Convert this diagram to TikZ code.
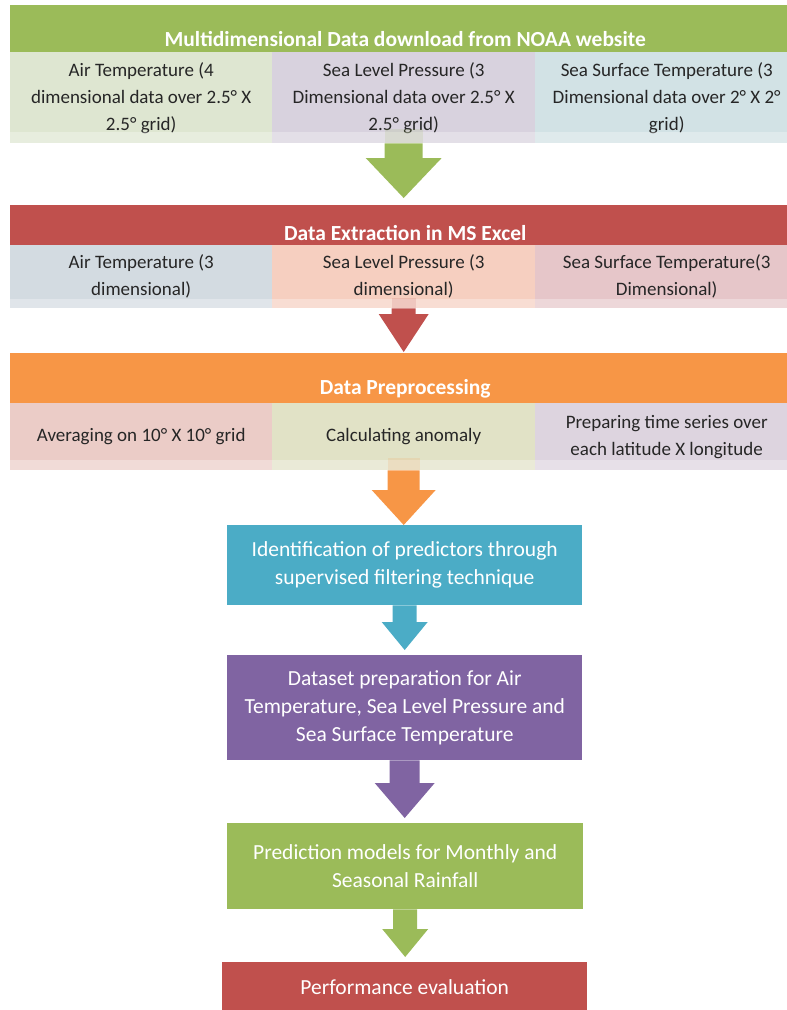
\documentclass[tikz,border=0pt]{standalone}
\usepackage{fontspec}
\setmainfont{Carlito}
\usetikzlibrary{calc}
\definecolor{hgreen}{HTML}{9BBB59}
\definecolor{hred}{HTML}{C0504D}
\definecolor{horange}{HTML}{F79646}
\definecolor{hteal}{HTML}{4BACC6}
\definecolor{hpurple}{HTML}{8064A2}
\definecolor{aA}{HTML}{DEE6D1}
\definecolor{aB}{HTML}{D8D2DE}
\definecolor{aC}{HTML}{D2E2E5}
\definecolor{bA}{HTML}{D3DBE1}
\definecolor{bB}{HTML}{F6CFC0}
\definecolor{bC}{HTML}{E6C6C9}
\definecolor{cA}{HTML}{EBCCC7}
\definecolor{cB}{HTML}{E1E2C6}
\definecolor{cC}{HTML}{DDD4DF}
\definecolor{txt}{HTML}{262626}
% block arrow: from, to, colour, half shaft, half head, head length, gap, overlap
\newcommand\barrow[8]{%
  \fill[#3] let \p1=(#1.south), \p2=(#2.north) in
   (\x1-#4,\y1) -- (\x1+#4,\y1) -- (\x1+#4,\y2+#7+#6) -- (\x1+#5,\y2+#7+#6)
   -- (\x1,\y2+#7) -- (\x1-#5,\y2+#7+#6) -- (\x1-#4,\y2+#7+#6) -- cycle;
  \fill[#3, fill opacity=0.15] let \p1=(#1.south) in
   (\x1-#4,\y1) rectangle (\x1+#4,\y1+#8);}
\newcommand\strip[2]{%
  \fill[white, fill opacity=0.3] (#1.south west) rectangle ([yshift=#2]#1.south east);}
\tikzset{
  band/.style={rectangle, inner xsep=0pt, inner ysep=0pt, minimum width=790pt,
    anchor=north west, text=white, font=\fontsize{21.5}{26}\selectfont\bfseries},
  sub/.style={rectangle, inner sep=0pt, minimum width=263pt, anchor=north west,
    align=center, text=txt, font=\fontsize{19}{27}\selectfont},
  proc/.style={rectangle, inner sep=0pt, anchor=north west, align=center,
    text=white, font=\fontsize{21.5}{28}\selectfont},
}
\begin{document}
\begin{tikzpicture}[x=1pt,y=-1pt]
\useasboundingbox (0,0) rectangle (787,1010);
% ---- stage 1
\node[band, fill=hgreen, text height=41pt, text depth=6pt] (h1) at (10,5)
  {Multidimensional Data download from NOAA website};
\node[sub, fill=aA, minimum height=91pt, minimum width=262pt] (a1) at (10,52)
  {Air Temperature (4\\dimensional data over 2.5° X\\2.5° grid)};
\node[sub, fill=aB, minimum height=91pt] (a2) at (272,52)
  {Sea Level Pressure (3\\Dimensional data over 2.5° X\\2.5° grid)};
\node[sub, fill=aC, minimum height=91pt] (a3) at (535,52)
  {Sea Surface Temperature (3\\Dimensional data over 2° X 2°\\grid)};
\strip{a1}{11pt}\strip{a2}{11pt}\strip{a3}{11pt}
% ---- stage 2
\node[band, fill=hred, text height=35pt, text depth=5pt] (h2) at (10,205)
  {Data Extraction in MS Excel};
\node[sub, fill=bA, minimum height=63pt, minimum width=262pt] (b1) at (10,245)
  {Air Temperature (3\\dimensional)};
\node[sub, fill=bB, minimum height=63pt] (b2) at (272,245)
  {Sea Level Pressure (3\\dimensional)};
\node[sub, fill=bC, minimum height=63pt] (b3) at (535,245)
  {Sea Surface Temperature(3\\Dimensional)};
\strip{b1}{9pt}\strip{b2}{9pt}\strip{b3}{9pt}
% ---- stage 3
\node[band, fill=horange, text height=41pt, text depth=9pt] (h3) at (10,353)
  {Data Preprocessing};
\node[sub, fill=cA, minimum height=67pt, minimum width=262pt] (c1) at (10,403)
  {Averaging on 10° X 10° grid};
\node[sub, fill=cB, minimum height=67pt] (c2) at (272,403)
  {Calculating anomaly};
\node[sub, fill=cC, minimum height=67pt] (c3) at (535,403)
  {Preparing time series over\\each latitude X longitude};
\strip{c1}{10pt}\strip{c2}{10pt}\strip{c3}{10pt}
% ---- process boxes
\node[proc, fill=hteal, minimum width=355pt, minimum height=80pt] (p1) at (227,525)
  {Identification of predictors through\\supervised filtering technique};
\node[proc, fill=hpurple, minimum width=355pt, minimum height=105pt] (p2) at (227,655)
  {Dataset preparation for Air\\Temperature, Sea Level Pressure and\\Sea Surface Temperature};
\node[proc, fill=hgreen, minimum width=356pt, minimum height=86pt] (p3) at (227,823)
  {Prediction models for Monthly and\\Seasonal Rainfall};
\node[proc, fill=hred, minimum width=365pt, minimum height=50pt] (p4) at (222,962)
  {Performance evaluation};
% ---- block arrows
\barrow{a2}{h2}{hgreen}{19pt}{38pt}{40pt}{7pt}{14pt}
\barrow{b2}{h3}{hred}{12pt}{25pt}{38pt}{1pt}{10pt}
\barrow{c2}{p1}{horange}{16pt}{32pt}{35pt}{0pt}{12pt}
\barrow{p1}{p2}{hteal}{12pt}{23pt}{28pt}{5pt}{0pt}
\barrow{p2}{p3}{hpurple}{15pt}{30pt}{35pt}{5pt}{0pt}
\barrow{p3}{p4}{hgreen}{12pt}{23pt}{28pt}{5pt}{0pt}
\end{tikzpicture}
\end{document}
